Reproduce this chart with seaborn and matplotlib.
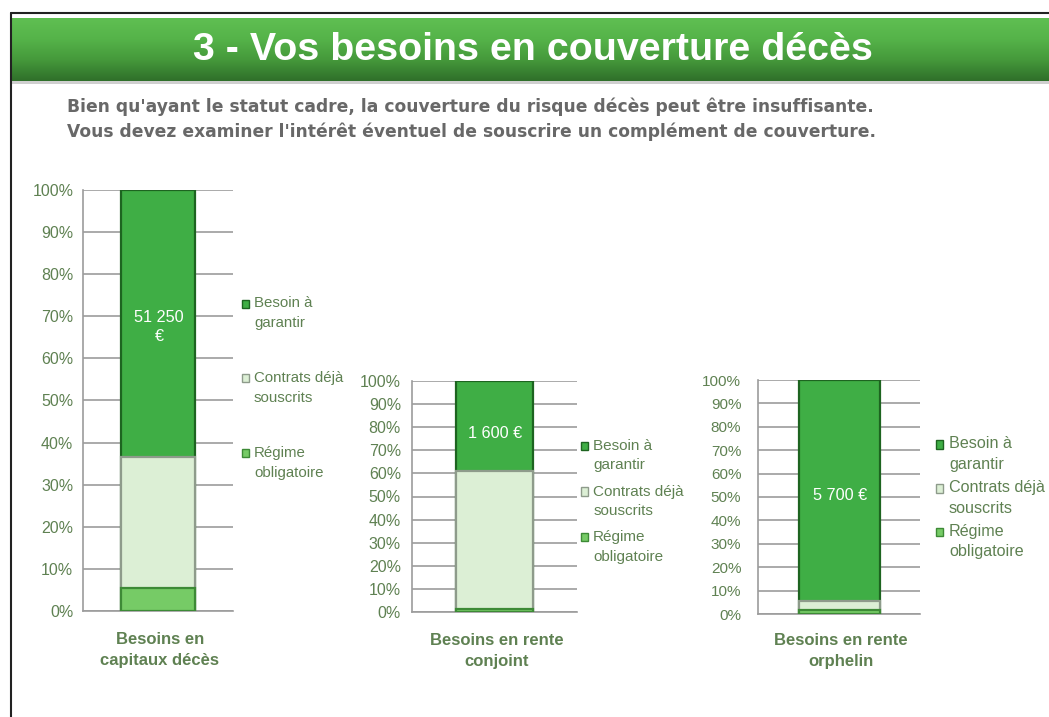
import numpy as np
import pandas as pd
import matplotlib
matplotlib.use("Agg")
import matplotlib.pyplot as plt
from matplotlib.patches import Patch, Rectangle
from matplotlib.lines import Line2D
from matplotlib.legend_handler import HandlerPatch
from matplotlib.colors import LinearSegmentedColormap
import seaborn as sns

# ---------------- data ----------------
categories = ["Besoins en\ncapitaux décès", "Besoins en rente\nconjoint", "Besoins en rente\norphelin"]
series = ["Besoin à\ngarantir", "Contrats déjà\nsouscrits", "Régime\nobligatoire"]
regime = [5.5, 1.5, 1.5]
contrats = [31.0, 59.5, 4.0]
besoin = [63.5, 39.0, 94.5]
value_labels = ["51 250\n€", "1 600 €", "5 700 €"]
yticks = [0, 10, 20, 30, 40, 50, 60, 70, 80, 90, 100]
title = "3 - Vos besoins en couverture décès"
subtitle = ["Bien qu'ayant le statut cadre, la couverture du risque décès peut être insuffisante.",
            "Vous devez examiner l'intérêt éventuel de souscrire un complément de couverture."]

# ---------------- style ----------------
sns.set_theme(style="white")
plt.rcParams["font.family"] = ["Liberation Sans", "DejaVu Sans"]

W, H = 1049, 717
fig = plt.figure(figsize=(W / 100, H / 100), dpi=100)
fig.patch.set_facecolor("white")

C_BESOIN, E_BESOIN = "#3fae45", "#1d6420"
C_CONTR, E_CONTR = "#dcefd5", "#8e9b8b"
C_REGIME, E_REGIME = "#76cb66", "#3d8a36"
TXT = "#5f8152"
GRID = "#9c9c9c"

def fax(left, top, right, bottom):
    return [left / W, 1 - bottom / H, (right - left) / W, (bottom - top) / H]

# border lines
fig.add_artist(Line2D([11 / W, 11 / W], [0, 1 - 13 / H], transform=fig.transFigure, color="#222222", lw=1.5))
fig.add_artist(Line2D([11 / W, 1], [1 - 13 / H, 1 - 13 / H], transform=fig.transFigure, color="#222222", lw=1.5))

# header band with gradient
hax = fig.add_axes(fax(12, 18, W, 81))
grad = np.linspace(0, 1, 100).reshape(-1, 1)
cmap = LinearSegmentedColormap.from_list("hdr", ["#5fbf52", "#55b349", "#45993b", "#2f6f2a"])
hax.imshow(grad, aspect="auto", cmap=cmap, extent=[0, 1, 0, 1])
hax.set_axis_off()
fig.add_artist(Rectangle((12 / W, 1 - 84 / H), 1, 3 / H, transform=fig.transFigure, color="#cfcfcf", lw=0))
fig.text(533 / W, 1 - 50 / H, title, ha="center", va="center", color="white",
         fontsize=28.4, fontweight="bold")

for k, yy in enumerate([107, 132]):
    fig.text(67 / W, 1 - yy / H, subtitle[k], ha="left", va="center", color="#686868",
             fontsize=12.3, fontweight="bold", family="DejaVu Sans")

# ---------------- charts ----------------
ax_boxes = [(83, 190, 233, 611), (412, 381, 577, 612), (758, 380, 920, 614)]
bar_widths = [0.49, 0.47, 0.5]
tick_fs = [11.5, 11.5, 11]
tick_pad = [7, 8, 12]
legend_pos = [(242, 296), (581, 439), (936, 436)]
legend_fs = [10.8, 11, 11.6]
legend_linesp = [1.57, 1.46, 1.48]
legend_spacing = [2.7, 0.83, 0.5]
label_y = [650, 651, 651]
value_y = [327, 433, 495]

def make_handler(shift_pt):
    def patch_func(legend, orig_handle, xdescent, ydescent, width, height, fontsize):
        return Rectangle((-xdescent, -ydescent + shift_pt), width, height)
    return HandlerPatch(patch_func=patch_func)

for i, cat in enumerate(categories):
    ax = fig.add_axes(fax(*ax_boxes[i]))
    tops = [regime[i] + contrats[i] + besoin[i], regime[i] + contrats[i], regime[i]]
    colors = [C_BESOIN, C_CONTR, C_REGIME]
    edges = [E_BESOIN, E_CONTR, E_REGIME]
    for s, top, c, e in zip(series, tops, colors, edges):
        d = pd.DataFrame({"x": [0], "top": [top]})
        sns.barplot(data=d, x="x", y="top", color=c, saturation=1, width=bar_widths[i],
                    edgecolor=e, linewidth=1.6, ax=ax, zorder=3, native_scale=True)
    ax.set_xlim(-0.5, 0.5)
    ax.set_ylim(0, 100)
    ax.set_yticks(yticks)
    ax.set_yticklabels([f"{t}%" for t in yticks], color=TXT, fontsize=tick_fs[i])
    ax.yaxis.grid(True, color=GRID, lw=1.2, zorder=0)
    ax.set_axisbelow(True)
    for s in ["top", "right"]:
        ax.spines[s].set_visible(False)
    for s in ["left", "bottom"]:
        ax.spines[s].set_color(GRID)
        ax.spines[s].set_linewidth(1.2)
    ax.tick_params(axis="y", length=0, pad=tick_pad[i])
    ax.set_xticks([-0.5, 0.5])
    ax.set_xticklabels(["", ""])
    ax.tick_params(axis="x", length=4, color=GRID, width=1.2, direction="out")
    ax.set_xlabel("")
    ax.set_ylabel("")
    ax.set_facecolor("white")
    l, t, r, b = ax_boxes[i]
    fig.text(((l + r) / 2 + 2) / W, 1 - label_y[i] / H, cat, ha="center", va="center",
             color=TXT, fontsize=12, fontweight="bold", linespacing=1.42)
    fig.text(((l + r) / 2 + 1) / W, 1 - value_y[i] / H, value_labels[i], ha="center",
             va="center", color="white", fontsize=11.7, linespacing=1.35)
    handles = [Patch(facecolor=C_BESOIN, edgecolor=E_BESOIN),
               Patch(facecolor=C_CONTR, edgecolor=E_CONTR),
               Patch(facecolor=C_REGIME, edgecolor=E_REGIME)]
    lx, ly = legend_pos[i]
    hm = make_handler(7.0)
    leg = fig.legend(handles, series, loc="upper left", bbox_to_anchor=(lx / W, 1 - ly / H),
                     frameon=False, fontsize=legend_fs[i], labelcolor=TXT, handlelength=0.45,
                     handleheight=0.45, handletextpad=0.35, labelspacing=legend_spacing[i],
                     borderaxespad=0, borderpad=0, handler_map={Patch: hm})
    for txt in leg.get_texts():
        txt.set_linespacing(legend_linesp[i])

fig.savefig("out.png", dpi=100, facecolor="white")
